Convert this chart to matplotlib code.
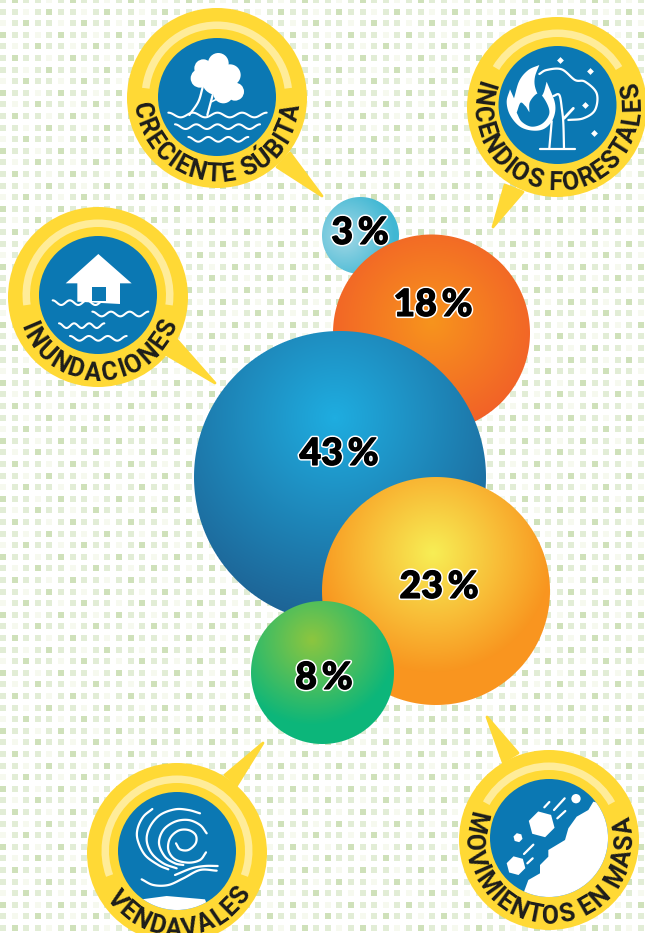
import numpy as np
import matplotlib
matplotlib.use('Agg')
import matplotlib.pyplot as plt
import matplotlib.patheffects as pe
from matplotlib.colors import LinearSegmentedColormap
from matplotlib.patches import Circle, Polygon, Wedge, Rectangle
from matplotlib.collections import PatchCollection
from matplotlib.font_manager import FontProperties
from matplotlib.textpath import text_to_path

# datos
shares = [3, 18, 43, 23, 8]
hazards = ['CRECIENTE SÚBITA', 'INCENDIOS FORESTALES', 'INUNDACIONES', 'VENDAVALES', 'MOVIMIENTOS EN MASA']

# burbujas: centro, radio, punto de brillo, alcance del degradado, colores
bubble_xy = [(360.5, 235.5), (431.5, 333), (340, 477), (436, 591), (322.5, 672.5)]
bubble_r = [38.5, 98.5, 146, 114, 71.5]
bubble_hi = [(345, 236), (432, 322), (335, 418), (433, 553), (312, 640)]
bubble_reach = [50, 125, 200, 120, 85]
bubble_cols = [('#a3d8e6', '#3fb7d3'), ('#f7941d', '#f15a29'), ('#1fade0', '#1d6496'),
               ('#f7ee55', '#f9951f'), ('#8dc63f', '#0cb67a')]
label_xy = [(360, 233), (433, 305), (339, 454), (439, 587), (324, 678)]

# insignias: centro exterior, centro del disco, radio del disco, arco claro, texto, cola
badge_xy = [(217, 98), (557, 107), (98, 297), (177, 853), (549, 840)]
disc_xy = [(217, 97), (557.5, 105), (98, 295), (177, 851), (549, 838)]
arc_elev = [7, 31, -8, -20, 29]
text_span = [(-80, 79), (-107, 103), (-67, 66), (-52, 56), (-103, 101)]
tails = [[(277, 167), (290, 153), (322, 196)],
         [(505, 185), (523, 192), (493, 227)],
         [(177, 340), (167, 355), (215, 383)],
         [(225, 775), (237, 785), (263, 743)],
         [(503, 762), (518, 753), (487, 717)]]

YELLOW = '#ffd935'
LIGHT = '#ffec99'
BLUE = '#0b78b3'
INK = '#1d1d1b'
narrow = ['Liberation Sans Narrow', 'Roboto']

fig = plt.figure(figsize=(6.45, 9.33), dpi=100)
ax = fig.add_axes([0, 0, 1, 1])
ax.set_xlim(0, 645)
ax.set_ylim(933, 0)
ax.axis('off')

# fondo de cuadritos
tile = np.array([[1, 1, 1, 1, 1, 1, 1, 0, 0, 0],
                 [1, 1, 1, 2, 1, 1, 1, 1, 2, 1],
                 [1, 1, 2, 1, 0, 1, 1, 2, 1, 1],
                 [2, 2, 1, 1, 2, 2, 1, 1, 2, 1],
                 [0, 1, 1, 1, 0, 1, 1, 1, 1, 1],
                 [0, 0, 0, 1, 0, 1, 0, 1, 1, 2],
                 [1, 1, 1, 1, 2, 1, 1, 1, 1, 1],
                 [0, 0, 1, 1, 1, 1, 1, 1, 1, 0],
                 [2, 1, 2, 1, 1, 1, 2, 1, 1, 1],
                 [1, 1, 1, 1, 1, 1, 1, 1, 1, 1]])
shades = ['#f6f9ef', '#e2edd6', '#cfe1ba']
squares, square_cols = [], []
for r in range(82):
    for c in range(57):
        squares.append(Rectangle((c * 11.6, r * 11.6 - 3), 6, 6))
        square_cols.append(shades[tile[(r + c * 3) % 10, (c + r * 7) % 10]])
ax.add_collection(PatchCollection(squares, facecolors=square_cols, edgecolors='none', zorder=1))


def zp(pts, ox, oy):
    return [(ox + x / 3, oy + y / 3) for x, y in pts]


def smooth(pts, n=12):
    p = np.array(pts, float)
    p = np.vstack([2 * p[0] - p[1], p, 2 * p[-1] - p[-2]])
    out = []
    for i in range(1, len(p) - 2):
        t = np.linspace(0, 1, n, endpoint=False)[:, None]
        out.append(0.5 * (2 * p[i] + (p[i + 1] - p[i - 1]) * t
                          + (2 * p[i - 1] - 5 * p[i] + 4 * p[i + 1] - p[i + 2]) * t ** 2
                          + (3 * p[i] - p[i - 1] - 3 * p[i + 1] + p[i + 2]) * t ** 3))
    out.append(p[-2][None])
    return np.vstack(out)


def curve(pts, lw=1.6, z=6):
    xy = smooth(pts)
    ax.plot(xy[:, 0], xy[:, 1], color='white', lw=lw, solid_capstyle='round', zorder=z)


def wave(x0, x1, y, periods, ox, oy, amp=7):
    x = np.linspace(x0, x1, 120)
    yy = y - amp * np.cos((x - x0) / (x1 - x0) * periods * 2 * np.pi)
    ax.plot(ox + x / 3, oy + yy / 3, color='white', lw=1.5, solid_capstyle='round', zorder=6)


def blob(pts, color='white', z=6):
    p = Polygon(pts, closed=True, fc=color, ec='none', zorder=z)
    ax.add_patch(p)
    return p


def curved_text(txt, cx, cy, span, R=83.5, size=18):
    prop = FontProperties(family=narrow, weight='bold', size=size)
    w = [text_to_path.get_text_width_height_descent(txt[:i], prop, False)[0] if i else 0
         for i in range(len(txt) + 1)]
    pos = [(w[i] + w[i + 1]) / 2 for i in range(len(txt))]
    for i, ch in enumerate(txt):
        phi = span[0] + (pos[i] - pos[0]) / (pos[-1] - pos[0]) * (span[1] - span[0])
        a = np.radians(phi)
        ax.text(cx + R * np.sin(a), cy + R * np.cos(a), ch, rotation=phi, rotation_mode='anchor',
                ha='center', va='baseline', family=narrow, weight='bold', fontsize=size,
                color=INK, zorder=7, clip_on=True)


# insignias
discs = []
for i, name in enumerate(hazards):
    cx, cy = badge_xy[i]
    ax.add_patch(Polygon(tails[i], closed=True, fc=YELLOW, ec=YELLOW, lw=2, joinstyle='round', zorder=3))
    ax.add_patch(Circle((cx, cy), 90, fc=YELLOW, ec='none', zorder=4))
    dx, dy = disc_xy[i]
    ax.add_patch(Wedge((dx, dy), 75.5, 180 + arc_elev[i], 360 - arc_elev[i], width=7.5, fc=LIGHT, ec='none', zorder=4.5))
    d = Circle((dx, dy), 59, fc=BLUE, ec='none', zorder=5)
    ax.add_patch(d)
    discs.append(d)
    curved_text(name, cx, cy, text_span[i])

# icono creciente subita
ox, oy = 120, 0
for x, y, r in [(250, 205, 27), (295, 190, 31), (330, 225, 32), (240, 235, 28), (290, 240, 45), (345, 275, 27), (310, 280, 30)]:
    ax.add_patch(Circle((ox + x / 3, oy + y / 3), r / 3, fc='white', ec='none', zorder=6))
curve(zp([(248, 262), (235, 305), (208, 345)], ox, oy))
curve(zp([(278, 285), (270, 315), (262, 345)], ox, oy))
curve(zp([(275, 305), (290, 298), (305, 295)], ox, oy), lw=1.2)
wave(145, 440, 345, 4, ox, oy)
wave(165, 420, 380, 4, ox, oy)
wave(205, 385, 418, 3, ox, oy)

# icono incendios
ox, oy = 500, 60
left_flame = smooth([(118, 15), (85, 30), (58, 62), (42, 115)], n=6)
right_flame = smooth([(30, 88), (20, 125), (30, 165), (60, 200), (100, 212), (135, 205), (160, 175), (165, 130), (140, 65)], n=8)
tip_flame = smooth([(140, 65), (130, 100), (118, 110), (105, 80), (105, 50), (118, 15)], n=6)
blob(zp(np.vstack([left_flame, right_flame, tip_flame]), ox, oy))
inner = smooth([(50, 158), (62, 128), (78, 140)], n=6)
inner2 = smooth([(88, 157), (90, 125), (115, 100), (138, 125), (148, 160), (128, 190), (95, 200), (65, 185), (50, 158)], n=8)
blob(zp(np.vstack([inner, inner2]), ox, oy), BLUE, z=6.1)
curve(zp([(118, 42), (140, 30), (185, 28), (225, 60), (255, 65), (290, 100), (285, 150), (250, 175), (205, 180)], ox, oy), z=6.2)
ax.plot(*zip(*zp([(155, 185), (148, 265)], ox, oy)), color='white', lw=1.6, zorder=6.2)
curve(zp([(160, 108), (178, 105), (186, 150), (190, 190), (192, 265)], ox, oy), z=6.2)
ax.plot(*zip(*zp([(192, 175), (220, 145)], ox, oy)), color='white', lw=2, solid_capstyle='round', zorder=6.2)
ax.plot(*zip(*zp([(120, 268), (225, 268)], ox, oy)), color='white', lw=1.6, solid_capstyle='round', zorder=6.2)
for x, y in [(180, 0), (270, 32), (255, 135), (283, 218)]:
    ax.scatter(ox + x / 3, oy + y / 3, marker='D', s=12, c='white', linewidths=0, zorder=6.2)

# icono inundaciones
ox, oy = 0, 200
house = [(295, 162), (395, 250), (360, 250), (360, 312), (232, 305), (232, 250), (197, 250)]
ax.add_patch(Polygon(zp(house, ox, oy), closed=True, fc='white', ec='none', zorder=6))
ax.add_patch(Polygon(zp([(275, 262), (318, 262), (318, 302), (275, 302)], ox, oy), closed=True, fc=BLUE, ec='none', zorder=6.1))
wave(158, 312, 308, 3, ox, oy)
wave(277, 445, 342, 3, ox, oy)
wave(177, 313, 377, 3, ox, oy)
wave(210, 380, 415, 3, ox, oy)

# icono vendavales
ox, oy = 125, 800
curve(zp([(82, 27), (55, 50), (38, 85), (38, 120), (60, 165), (100, 195), (130, 208)], ox, oy))
curve(zp([(225, 40), (190, 30), (150, 28), (105, 45), (75, 80), (65, 120), (80, 160), (115, 190), (155, 205)], ox, oy))
curve(zp([(245, 100), (225, 75), (190, 60), (150, 65), (115, 90), (102, 130), (120, 170), (150, 190), (175, 195)], ox, oy))
curve(zp([(153, 130), (165, 148), (190, 150), (212, 130), (212, 105), (190, 90), (160, 92), (135, 115), (130, 150), (150, 178), (190, 188), (225, 180), (243, 157)], ox, oy))
curve(zp([(50, 238), (85, 255), (130, 255), (175, 235), (225, 210), (275, 212)], ox, oy))
curve(zp([(150, 225), (200, 205), (240, 198), (278, 198)], ox, oy))
ground = [(20, 302), (125, 288), (240, 298), (280, 400), (0, 400)]
g = Polygon(zp(ground, ox, oy), closed=True, fc='white', ec='none', zorder=6)
ax.add_patch(g)
g.set_clip_path(discs[3])

# icono movimientos en masa
ox, oy = 450, 710
slope = [(222, 545), (235, 510), (270, 490), (270, 465), (295, 440), (295, 420), (345, 390), (355, 355),
         (380, 320), (415, 300), (430, 275), (490, 290), (490, 570), (222, 570)]
s = Polygon(zp(slope, ox, oy), closed=True, fc='white', ec='none', zorder=6)
ax.add_patch(s)
s.set_clip_path(discs[4])
for x, y, r in [(275, 343, 40), (204, 383, 14), (198, 467, 29)]:
    ang = np.radians(np.arange(6) * 60 + 15)
    hexa = np.c_[ox + (x + r * np.cos(ang)) / 3, oy + (y + r * np.sin(ang)) / 3]
    ax.add_patch(Polygon(hexa, closed=True, fc='white', ec='none', zorder=6))
ax.add_patch(Circle((ox + 378 / 3, oy + 266 / 3), 14 / 3, fc='white', ec='none', zorder=6))
for a, b in [((283, 292), (298, 276)), ((312, 300), (344, 265)), ((322, 325), (346, 303)),
             ((222, 432), (250, 404)), ((232, 460), (248, 445))]:
    ax.plot(*zip(*zp([a, b], ox, oy)), color='white', lw=1.6, solid_capstyle='round', zorder=6)

# burbujas con degradado radial, calculadas sobre toda la imagen
gx, gy = np.meshgrid(np.arange(645) + 0.5, np.arange(933) + 0.5)
for i, v in enumerate(shares):
    cx, cy = bubble_xy[i]
    hx, hy = bubble_hi[i]
    cmap = LinearSegmentedColormap.from_list('b%d' % i, bubble_cols[i])
    rgba = cmap(np.clip(np.hypot(gx - hx, gy - hy) / bubble_reach[i], 0, 1))
    rgba[..., 3] = np.clip(bubble_r[i] - np.hypot(gx - cx, gy - cy) + 0.5, 0, 1)
    ax.imshow(rgba, extent=(0, 645, 933, 0), interpolation='nearest', aspect='auto', zorder=10 + i)
    ax.text(label_xy[i][0], label_xy[i][1], '%d\u2009%%' % v, ha='center', va='center', family=['Lato', 'DejaVu Sans'],
            weight='black', fontsize=27, color='black', zorder=20,
            path_effects=[pe.Stroke(linewidth=3, foreground='white'),
                          pe.Stroke(linewidth=0.8, foreground='black'), pe.Normal()])

ax.set_xlim(0, 645)
ax.set_ylim(933, 0)
fig.savefig('out.png', dpi=100)
